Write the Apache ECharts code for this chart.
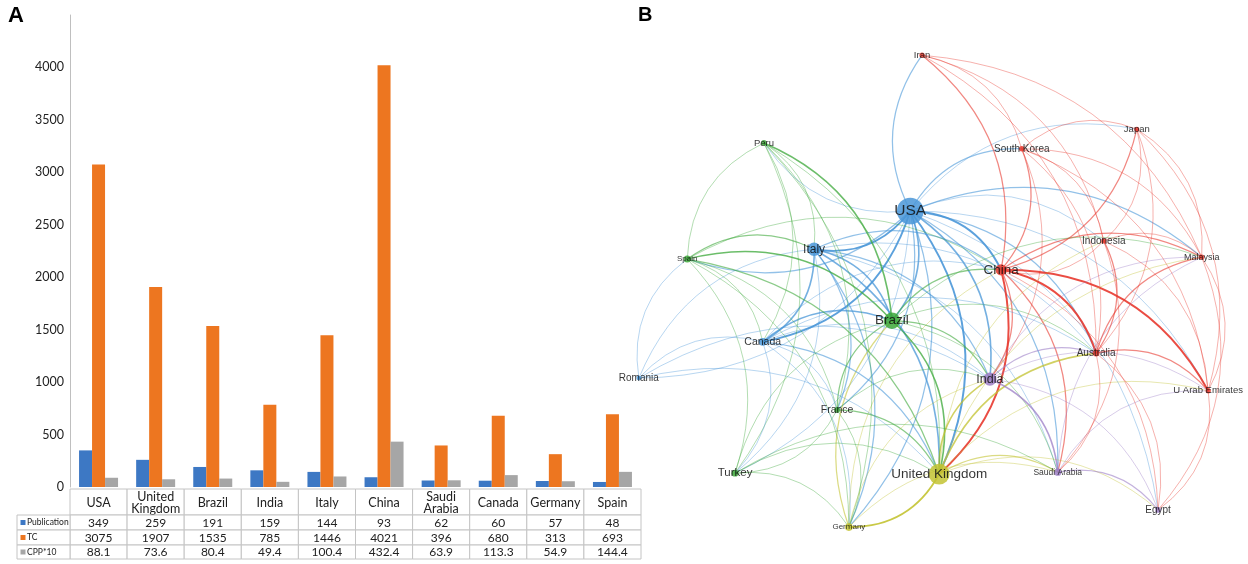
<!DOCTYPE html>
<html>
<head>
<meta charset="utf-8">
<script src="https://cdn.jsdelivr.net/npm/echarts@6/dist/echarts.min.js"></script>
<style>
html,body{margin:0;padding:0;background:#fff;}
#c{width:1248px;height:564px;}
</style>
</head>
<body>
<div id="c"></div>
<script>
// ---------- Panel A data ----------
const categories = ['USA','United Kingdom','Brazil','India','Italy','China','Saudi Arabia','Canada','Germany','Spain'];
const headerLabels = ['USA','United\nKingdom','Brazil','India','Italy','China','Saudi\nArabia','Canada','Germany','Spain'];
const seriesNames = ['Publication','TC','CPP*10'];
const publication = [349,259,191,159,144,93,62,60,57,48];
const tc = [3075,1907,1535,785,1446,4021,396,680,313,693];
const cpp10 = [88.1,73.6,80.4,49.4,100.4,432.4,63.9,113.3,54.9,144.4];
const cpp10Text = ['88.1','73.6','80.4','49.4','100.4','432.4','63.9','113.3','54.9','144.4'];

// ---------- Panel B data (layout units 0..100) ----------
const nodeNames   = ['Iran','Japan','South Korea','Peru','USA','Italy','Spain','Indonesia','Malaysia','China','Brazil','Canada','Romania','Australia','India','U Arab Emirates','France','Turkey','United Kingdom','Saudi Arabia','Egypt','Germany'];
const nodeX       = [49.5,85.9,66.4,22.7,47.5,31.2,9.7,80.3,96.9,62.9,44.4,22.5,1.5,79.0,61.0,98.0,35.1,17.8,52.4,72.5,89.5,37.1];
const nodeY       = [3.1,18.2,22.2,21.0,34.9,42.7,44.7,41.0,44.3,46.9,57.3,61.6,69.0,63.9,69.2,71.6,75.5,88.4,88.6,88.2,95.9,99.4];
const nodeCluster = [1,1,1,2,3,3,2,1,1,1,2,3,3,1,5,1,2,2,4,5,5,4];
const nodeWeight  = [20,16,22,24,349,144,48,18,20,110,191,60,12,45,140,20,28,45,259,50,25,57];

const links = [
 ['USA','Italy',4],['USA','Brazil',3],['USA','Canada',4],['USA','China',4],['USA','United Kingdom',4],['USA','India',3],
 ['USA','Iran',2],['USA','South Korea',2],['USA','Malaysia',2],['USA','Spain',2],['USA','Peru',1],['USA','Romania',1],
 ['USA','Saudi Arabia',2],['USA','Australia',2],['USA','France',2],['USA','Germany',2],['USA','Turkey',1],['USA','Japan',1],
 ['USA','Egypt',1],['USA','Indonesia',1],['USA','U Arab Emirates',1],
 ['Italy','Brazil',3],['Italy','Canada',3],['Spain','Italy',2],['Italy','United Kingdom',3],['Italy','India',2],['Italy','China',2],
 ['Italy','France',2],['Romania','Italy',1],['Italy','Germany',2],['Peru','Italy',1],['Italy','Australia',1],['Italy','Saudi Arabia',1],['Italy','Turkey',1],
 ['China','Australia',4],['China','United Kingdom',4],['China','U Arab Emirates',4],['China','India',2],['Iran','China',2],['South Korea','China',2],
 ['Japan','China',2],['Indonesia','China',1],['China','Malaysia',2],['China','Saudi Arabia',2],['Canada','China',1],['Brazil','China',2],
 ['China','Egypt',1],['Spain','China',1],['Germany','China',1],
 ['Brazil','United Kingdom',3],['Spain','Brazil',3],['Peru','Brazil',3],['Canada','Brazil',3],['Brazil','India',2],['France','Brazil',2],
 ['Turkey','Brazil',1],['Germany','Brazil',2],['Brazil','Australia',1],['Brazil','Saudi Arabia',1],['Brazil','Malaysia',1],
 ['United Kingdom','Germany',4],['United Kingdom','India',3],['United Kingdom','Australia',3],['United Kingdom','Saudi Arabia',2],
 ['Canada','United Kingdom',2],['Spain','United Kingdom',2],['Turkey','United Kingdom',1],['France','United Kingdom',2],['United Kingdom','Egypt',1],
 ['United Kingdom','Malaysia',1],['United Kingdom','U Arab Emirates',1],['United Kingdom','Indonesia',1],['Peru','United Kingdom',1],['Romania','United Kingdom',1],
 ['India','Saudi Arabia',3],['India','Australia',2],['India','Egypt',1],['Canada','India',1],['India','Malaysia',1],['India','U Arab Emirates',1],['South Korea','India',1],
 ['Saudi Arabia','Egypt',2],['Saudi Arabia','U Arab Emirates',1],['Saudi Arabia','Malaysia',1],['Australia','Saudi Arabia',1],['Indonesia','Saudi Arabia',1],['Germany','Saudi Arabia',1],
 ['Australia','U Arab Emirates',2],['Australia','Malaysia',2],['Indonesia','Australia',2],['Japan','Australia',1],['South Korea','Australia',1],['Australia','Egypt',1],['Iran','Australia',1],['Canada','Australia',1],
 ['Iran','South Korea',1],['Iran','Malaysia',1],['Iran','Indonesia',1],
 ['Japan','Malaysia',1],['South Korea','Japan',1],['Japan','Indonesia',1],['Japan','U Arab Emirates',1],
 ['South Korea','Malaysia',1],['South Korea','Indonesia',1],['South Korea','U Arab Emirates',1],
 ['Indonesia','Malaysia',1],['Indonesia','U Arab Emirates',1],['Malaysia','U Arab Emirates',1],['Malaysia','Egypt',1],['U Arab Emirates','Egypt',1],
 ['Spain','Peru',1],['Spain','Canada',1],['Spain','France',1],['Spain','Turkey',1],['Spain','Germany',1],['Romania','Spain',1],
 ['Peru','Canada',1],['Peru','France',1],['Peru','Germany',1],['Peru','Turkey',1],
 ['Canada','France',1],['Romania','Canada',1],['Canada','Germany',1],['Canada','Turkey',1],['Romania','India',1],
 ['France','Turkey',1],['France','Germany',1],['France','India',1],['Turkey','Germany',1],['Germany','India',1],['Turkey','Saudi Arabia',1]
];

// ---------- styles ----------
const clusterColor = {1:'#e8392f',2:'#3da83a',3:'#4a97d8',4:'#c3c332',5:'#9c7ec6'};
const labelFont = {'USA':15.5,'United Kingdom':13.5,'China':13.5,'Brazil':13.5,'India':12.5,'Italy':12,'Turkey':11.5,'Canada':10.5,'France':10.5,
  'Spain':8,'Germany':8,'Saudi Arabia':8.5,'U Arab Emirates':9.5,'Malaysia':9,'Japan':9.5,'Iran':9.5,'Peru':9.5};
const barColors = ['#3d78c4','#ed7620','#a6a6a6'];

const chart = echarts.init(document.getElementById('c'));

const colorOf = {};
nodeNames.forEach((n,i)=>{ colorOf[n] = clusterColor[nodeCluster[i]]; });

const graphNodes = nodeNames.map((n,i)=>({
  name:n,
  value:[nodeX[i],nodeY[i]],
  symbolSize: 4 + nodeWeight[i]*0.065,
  itemStyle:{color: colorOf[n], opacity:0.85},
  label:{fontSize: labelFont[n] || 10}
}));
const graphLinks = links.map(l=>({
  source:l[0], target:l[1],
  lineStyle:{color: colorOf[l[0]], width:0.55+0.35*l[2], opacity:Math.min(0.9,0.28+0.16*l[2])}
}));

const option = {
  animation:false,
  backgroundColor:'#fff',
  grid:[
    {left:70, top:15, width:571, height:472},
    {left:630, top:40, width:590, height:490}
  ],
  xAxis:[
    {type:'category', gridIndex:0, data:categories, axisLine:{show:false}, axisTick:{show:false}, axisLabel:{show:false}},
    {type:'value', gridIndex:1, min:0, max:100, show:false}
  ],
  yAxis:[
    {type:'value', gridIndex:0, min:0, max:4500, interval:500,
     axisLine:{show:true, lineStyle:{color:'#bfbfbf', width:1}}, axisTick:{show:false}, splitLine:{show:false},
     axisLabel:{color:'#222', fontSize:12.5, fontFamily:'Lato', margin:6, formatter:v=> v===4500 ? '' : String(v)}},
    {type:'value', gridIndex:1, min:0, max:100, inverse:true, show:false}
  ],
  series:[
    {name:seriesNames[0], type:'bar', xAxisIndex:0, yAxisIndex:0, data:publication, barWidth:13, barGap:'0%', itemStyle:{color:barColors[0]}},
    {name:seriesNames[1], type:'bar', xAxisIndex:0, yAxisIndex:0, data:tc, barWidth:13, barGap:'0%', itemStyle:{color:barColors[1]}},
    {name:seriesNames[2], type:'bar', xAxisIndex:0, yAxisIndex:0, data:cpp10, barWidth:13, barGap:'0%', itemStyle:{color:barColors[2]}},
    {type:'graph', coordinateSystem:'cartesian2d', xAxisIndex:1, yAxisIndex:1,
     data:graphNodes, links:graphLinks, edgeSymbol:['none','none'],
     lineStyle:{curveness:0.3},
     label:{show:true, position:'inside', color:'#111', fontFamily:'Liberation Sans'},
     emphasis:{disabled:true}, silent:true, z:2}
  ]
};
chart.setOption(option);

// ---------- data table under panel A ----------
const centers = categories.map(c=>chart.convertToPixel({xAxisIndex:0}, c));
const colW = centers[1]-centers[0];
const gx0 = centers[0]-colW/2;
const headerTop = 489, headerH = 26;
const rowTops = [515,530,545], rowH = [15,15,14];
const rowValues = [publication.map(String), tc.map(String), cpp10Text];
const border = '#c4c4c4';
const g = [];
const font = (s)=> s+'px Lato';
categories.forEach((c,i)=>{
  const x = gx0 + i*colW;
  g.push({type:'rect', shape:{x:x, y:headerTop, width:colW, height:headerH}, style:{fill:'#fff', stroke:border, lineWidth:1}, silent:true});
  g.push({type:'text', style:{text:headerLabels[i], x:centers[i], y:headerTop+headerH/2+1, align:'center', verticalAlign:'middle', font:font(12.5), fill:'#222', lineHeight:12}, silent:true});
  rowValues.forEach((vals,r)=>{
    g.push({type:'rect', shape:{x:x, y:rowTops[r], width:colW, height:rowH[r]}, style:{fill:'#fff', stroke:border, lineWidth:1}, silent:true});
    g.push({type:'text', style:{text:vals[i], x:centers[i], y:rowTops[r]+rowH[r]/2+0.5, align:'center', verticalAlign:'middle', font:font(12), fill:'#222'}, silent:true});
  });
});
seriesNames.forEach((n,r)=>{
  g.push({type:'rect', shape:{x:17, y:rowTops[r], width:gx0-17, height:rowH[r]}, style:{fill:'#fff', stroke:border, lineWidth:1}, silent:true});
  g.push({type:'rect', shape:{x:20.5, y:rowTops[r]+rowH[r]/2-2.5, width:5, height:5}, style:{fill:barColors[r]}, silent:true});
  g.push({type:'text', style:{text:n, x:27, y:rowTops[r]+rowH[r]/2, align:'left', verticalAlign:'middle', font:font(8.5), fill:'#222'}, silent:true});
});
g.push({type:'text', style:{text:'A', x:8, y:16, align:'left', verticalAlign:'middle', font:'bold 22px Liberation Sans', fill:'#000'}, silent:true});
g.push({type:'text', style:{text:'B', x:638, y:15, align:'left', verticalAlign:'middle', font:'bold 20px Liberation Sans', fill:'#000'}, silent:true});
chart.setOption({graphic:g});
</script>
</body>
</html>
